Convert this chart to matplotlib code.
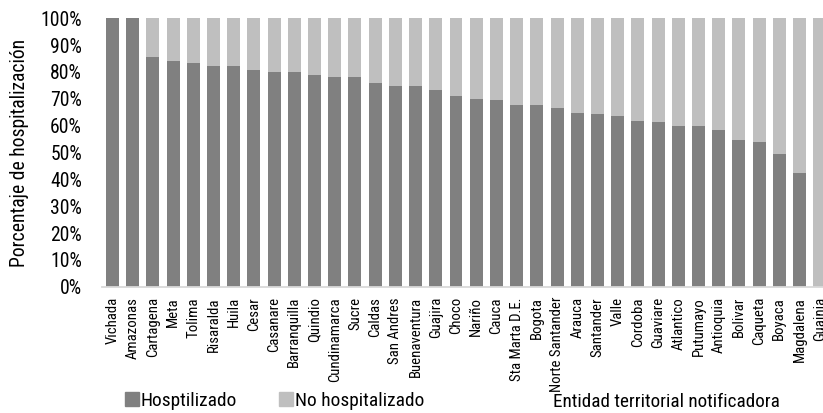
import matplotlib
matplotlib.use("Agg")
import matplotlib.pyplot as plt
from matplotlib import font_manager
from matplotlib.patches import Patch

entidades = [
    "Vichada", "Amazonas", "Cartagena", "Meta", "Tolima", "Risaralda", "Huila",
    "Cesar", "Casanare", "Barranquilla", "Quindio", "Cundinamarca", "Sucre",
    "Caldas", "San Andres", "Buenaventura", "Guajira", "Choco", "Nariño",
    "Cauca", "Sta Marta D.E.", "Bogota", "Norte Santander", "Arauca",
    "Santander", "Valle", "Cordoba", "Guaviare", "Atlantico", "Putumayo",
    "Antioquia", "Bolivar", "Caqueta", "Boyaca", "Magdalena", "Guainia",
]
hospitalizado = [
    100.0, 100.0, 85.6, 84.0, 83.5, 82.1, 82.1, 80.9, 80.1, 79.9, 79.0, 78.2,
    78.0, 76.0, 74.9, 74.9, 73.4, 71.2, 70.0, 69.7, 67.7, 67.7, 66.7, 64.7,
    64.3, 63.6, 61.7, 61.4, 59.9, 59.9, 58.4, 54.8, 53.9, 49.6, 42.4, 0.0,
]
no_hospitalizado = [100.0 - v for v in hospitalizado]
y_ticks = list(range(0, 101, 10))

# narrow font like the original (Arial Narrow); fall back to Liberation Sans
installed = {f.name for f in font_manager.fontManager.ttflist}
narrow = next((n for n in ["Liberation Sans Narrow", "Roboto Condensed", "Archivo Narrow",
                           "PT Sans Narrow"] if n in installed), "Liberation Sans")
plt.rcParams["font.family"] = [narrow, "DejaVu Sans"]

fig = plt.figure(figsize=(8.23, 4.13), dpi=100)
renderer = fig.canvas.get_renderer()


def fit_size(text, target_px):
    """font size that makes `text` about target_px wide"""
    t = fig.text(0, 0, text, fontsize=10)
    w = t.get_window_extent(renderer).width
    t.remove()
    return 10 * target_px / w


tick_size = fit_size("Cundinamarca", 84)
ytick_size = fit_size("100%", 41)
big = fit_size("Entidad territorial notificadora", 225)
legend_size = fit_size("Hosptilizado", 96)
ylabel_size = fit_size("Porcentaje de hospitalización", 227)

dark, light = "#808080", "#bfbfbf"

ax = fig.add_axes([101.7 / 823, 1 - 286.7 / 413, 1 - 101.7 / 823, (286.7 - 18.3) / 413])

x = list(range(len(entidades)))
ax.bar(x, hospitalizado, width=0.64, color=dark)
ax.bar(x, no_hospitalizado, width=0.64, bottom=hospitalizado, color=light)

ax.set_xlim(-0.53, 35.16)
ax.set_ylim(0, 100)
ax.set_yticks(y_ticks)
ax.set_yticklabels([f"{t}%" for t in y_ticks], fontsize=ytick_size)
ax.set_xticks(x)
ax.set_xticklabels(entidades, rotation=90, fontsize=tick_size, va="top", ha="center")
ax.tick_params(axis="y", length=0, pad=14.2)
ax.tick_params(axis="x", length=0, pad=7.5)
for side in ("left", "right", "top"):
    ax.spines[side].set_visible(False)
ax.spines["bottom"].set_color("#d9d9d9")
ax.spines["bottom"].set_linewidth(1.3)

fig.text(20 / 823, 1 - 153 / 413, "Porcentaje de hospitalización",
         rotation=90, ha="center", va="center", fontsize=ylabel_size)
fig.text(553 / 823, 1 - 407 / 413, "Entidad territorial notificadora",
         ha="left", va="baseline", fontsize=big)

handles = [Patch(color=dark, label="Hosptilizado"), Patch(color=light, label="No hospitalizado")]
fig.legend(handles=handles, loc="center left", bbox_to_anchor=(125 / 823, 1 - 401 / 413),
           ncol=2, frameon=False, borderpad=0, borderaxespad=0, handlelength=0.72,
           handleheight=0.7, handletextpad=0.1, columnspacing=2.15,
           prop={"size": legend_size})

fig.savefig("out.png", dpi=100)
